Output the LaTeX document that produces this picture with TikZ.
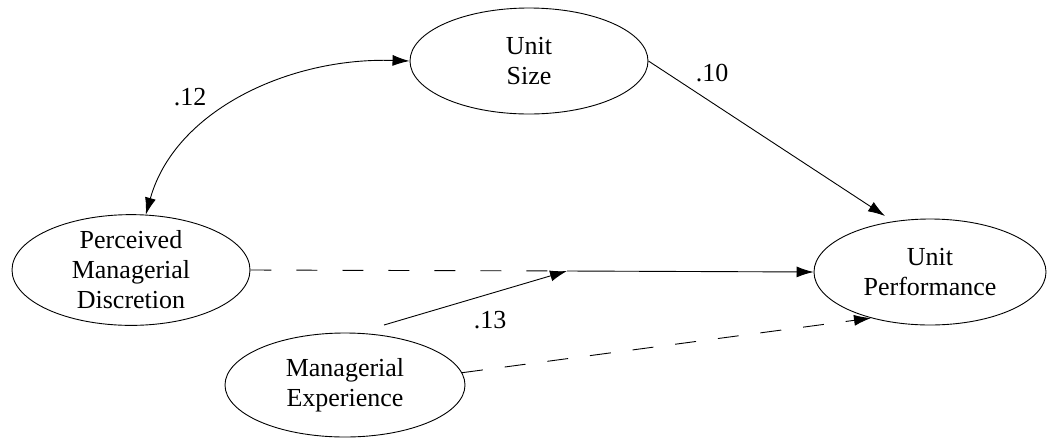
\documentclass[tikz,border=0pt]{standalone}
\usepackage{fontspec}
\setmainfont{Liberation Serif}
\newfontfamily\timesfont{Liberation Serif}
\usetikzlibrary{shapes.geometric,arrows.meta}
\begin{document}
\begin{tikzpicture}[x=1pt,y=-1pt,
  every node/.style={font=\timesfont\fontsize{26}{30}\selectfont},
  latent/.style={draw,ellipse,line width=0.9pt,inner sep=0pt,
    minimum width=238pt,minimum height=106pt,align=center},
  tip/.style={Latex[length=17pt,width=11pt]},
  effect/.style={line width=0.9pt,-{Latex[length=17pt,width=11pt]}},
  dasheffect/.style={effect,dash pattern=on 21pt off 22pt}]
\useasboundingbox (0,0) rectangle (1047,440);

% constructs
\node[latent] (us)  at (529,61)  {Unit\\Size};
\node[latent] (pmd) at (131,270) {Perceived\\Managerial\\Discretion};
\node[latent,minimum width=240pt,minimum height=104pt] (me) at (345,385) {Managerial\\Experience};
\node[latent,minimum width=232pt] (up) at (930,272) {Unit\\Performance};

% junction where the moderating effect meets the main path
\coordinate (mod) at (567,271);
\coordinate (mestart) at (384,325);

% correlation between discretion and size
\draw[line width=0.9pt,{Latex[length=17pt,width=11pt]}-{Latex[length=17pt,width=11pt]}]
  (pmd.75) .. controls (175,110) and (290,57) .. (us.west);
\node at (190,97) {.12};

% size -> performance
\draw[effect] (us.east) -- (885,216);
\node at (712,73) {.10};

% discretion -> performance, moderated by experience
\draw[line width=0.9pt,dash pattern=on 21pt off 25pt] (pmd.east) -- (mod);
\draw[effect] (mod) -- (up.west);
\draw[effect] (mestart) -- (mod);
\node at (490,320) {.13};

% experience -> performance
\draw[dasheffect] (me.6) -- (up.218);
\end{tikzpicture}
\end{document}
